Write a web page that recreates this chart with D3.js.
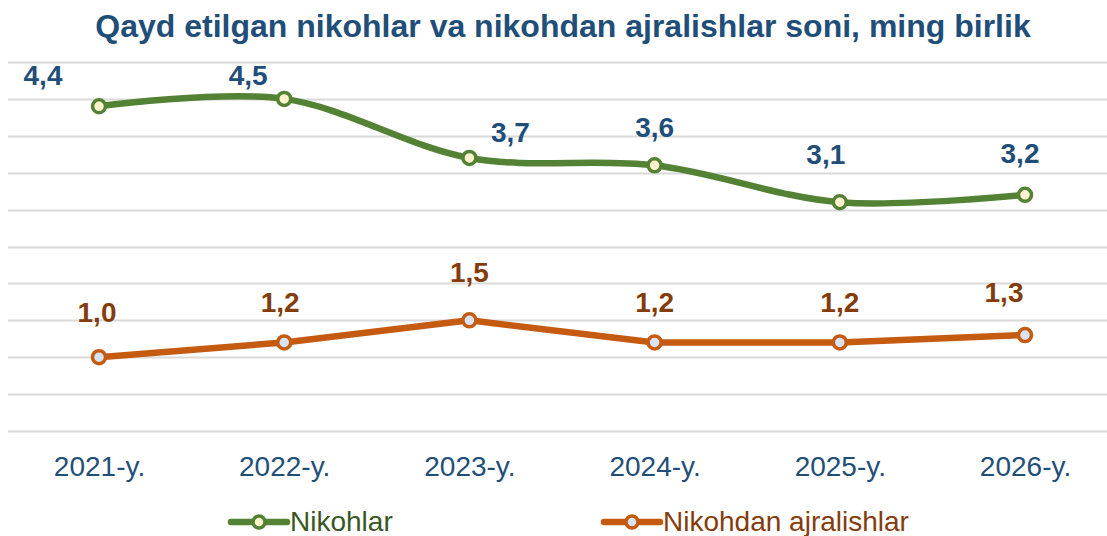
<!DOCTYPE html>
<html>
<head>
<meta charset="utf-8">
<script src="https://cdn.jsdelivr.net/npm/d3@7"></script>
<style>
  body { margin: 0; background: #fff; }
  svg { display: block; font-family: "Liberation Sans", Arial, sans-serif; }
</style>
</head>
<body>
<svg width="1107" height="536"></svg>
<script>
const years = ['2021-y.', '2022-y.', '2023-y.', '2024-y.', '2025-y.', '2026-y.'];
const nikohlar = [4.4, 4.5, 3.7, 3.6, 3.1, 3.2];
const ajralish = [1.0, 1.2, 1.5, 1.2, 1.2, 1.3];
const seriesNames = ['Nikohlar', 'Nikohdan ajralishlar'];

// hand placed label offsets (dx, baseline dy from point)
const greenLabelOff = [[-56, -21], [-36, -14], [41, -16], [0, -28], [-14, -38], [-5, -32]];
const orangeLabelOff = [[-2, -35], [-4, -30], [0, -38], [0, -30], [0, -30], [-21, -33]];

const svg = d3.select('svg');
const width = +svg.attr('width');
const height = +svg.attr('height');

const x = d3.scalePoint().domain(years).range([99, 1025]);
const y = d3.scaleLinear().domain([0, 5]).range([431, 62]);

svg.append('text')
  .attr('x', 563)
  .attr('y', 37)
  .attr('text-anchor', 'middle')
  .attr('font-size', 32)
  .attr('font-weight', 'bold')
  .attr('fill', '#1F4E79')
  .text('Qayd etilgan nikohlar va nikohdan ajralishlar soni, ming birlik');

// gridlines
svg.append('g')
  .selectAll('line')
  .data(d3.range(0, 5.01, 0.5))
  .join('line')
  .attr('x1', 8)
  .attr('x2', width)
  .attr('y1', d => Math.round(y(d)) + 0.5)
  .attr('y2', d => Math.round(y(d)) + 0.5)
  .attr('stroke', '#D9D9D9')
  .attr('stroke-width', 2);

// x axis labels
const xAxis = svg.append('g')
  .attr('transform', 'translate(0,431)')
  .call(d3.axisBottom(x).tickSize(0).tickPadding(25));
xAxis.select('.domain').remove();
xAxis.selectAll('text')
  .attr('font-size', 28)
  .attr('font-family', '"Liberation Sans", Arial, sans-serif')
  .attr('fill', '#1F4E79');

function drawSeries(values, color, markerFill, curve, labelColor, offs) {
  const line = d3.line()
    .x((d, i) => x(years[i]))
    .y(d => y(d))
    .curve(curve);
  svg.append('path')
    .datum(values)
    .attr('d', line)
    .attr('fill', 'none')
    .attr('stroke', color)
    .attr('stroke-width', 6.5)
    .attr('stroke-linejoin', 'round');
  svg.append('g')
    .selectAll('circle')
    .data(values)
    .join('circle')
    .attr('cx', (d, i) => x(years[i]))
    .attr('cy', d => y(d))
    .attr('r', 6.5)
    .attr('fill', markerFill)
    .attr('stroke', color)
    .attr('stroke-width', 3.5);
  svg.append('g')
    .selectAll('text')
    .data(values)
    .join('text')
    .attr('x', (d, i) => x(years[i]) + offs[i][0])
    .attr('y', (d, i) => y(d) + offs[i][1])
    .attr('text-anchor', 'middle')
    .attr('font-size', 28)
    .attr('font-weight', 'bold')
    .attr('fill', labelColor)
    .text(d => d.toFixed(1).replace('.', ','));
}

drawSeries(nikohlar, '#548235', '#FFF2CC', d3.curveCardinal.tension(0), '#1F4E79', greenLabelOff);
drawSeries(ajralish, '#C55A11', '#DAE3F3', d3.curveLinear, '#843C0C', orangeLabelOff);

// legend
const legendItems = [
  {name: seriesNames[0], x: 231, color: '#548235', fill: '#FFF2CC', text: '#385723'},
  {name: seriesNames[1], x: 604, color: '#C55A11', fill: '#DAE3F3', text: '#843C0C'}
];
const lg = svg.append('g').selectAll('g')
  .data(legendItems)
  .join('g')
  .attr('transform', d => `translate(${d.x},522)`);
lg.append('line')
  .attr('x1', 0).attr('x2', 56)
  .attr('stroke', d => d.color)
  .attr('stroke-width', 6.5)
  .attr('stroke-linecap', 'round');
lg.append('circle')
  .attr('cx', 28).attr('r', 6)
  .attr('fill', d => d.fill)
  .attr('stroke', d => d.color)
  .attr('stroke-width', 3.5);
lg.append('text')
  .attr('x', 59)
  .attr('y', 9)
  .attr('font-size', 28)
  .attr('fill', d => d.text)
  .text(d => d.name);
</script>
</body>
</html>
